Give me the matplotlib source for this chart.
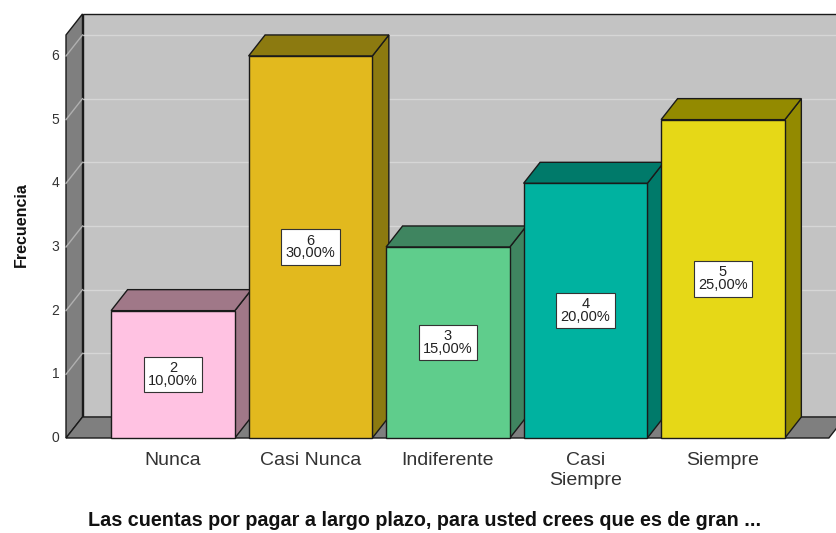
"""3D-style frequency bar chart drawn with plain matplotlib patches."""

import matplotlib
import matplotlib.pyplot as plt
from matplotlib.patches import Polygon, Rectangle

matplotlib.use("Agg")

plt.rcParams["font.family"] = ["Liberation Sans", "DejaVu Sans"]

# Data
categories = ["Nunca", "Casi Nunca", "Indiferente", "Casi\nSiempre", "Siempre"]
counts = [2, 6, 3, 4, 5]
percents = [10.0, 30.0, 15.0, 20.0, 25.0]
y_ticks = [0, 1, 2, 3, 4, 5, 6]

front_colors = ["#FFC2E2", "#E2B91E", "#5FCD8C", "#00B2A0", "#E6D817"]
side_colors = ["#A07888", "#8C7A10", "#3F8560", "#007A6A", "#938A00"]

xlabel = "Las cuentas por pagar a largo plazo, para usted crees que es de gran ..."
ylabel = "Frecuencia"

# Geometry (data units: x = category index, y = frequency)
BAR_W = 0.9
DX, DY = 0.12, 0.33          # depth offset of the 3D box
X_LEFT, X_RIGHT = -0.778, 4.77
Y_TOP = 6.33
EDGE = "#1a1a1a"

fig = plt.figure(figsize=(8.36, 5.33), dpi=100)
ax = fig.add_axes([0, 0, 1, 1])
ax.set_xlim(-1.258, 4.822)
ax.set_ylim(-1.492, 6.879)
ax.axis("off")

# Back wall
ax.add_patch(Polygon([(X_LEFT + DX, DY), (X_RIGHT + DX + 1, DY),
                      (X_RIGHT + DX + 1, Y_TOP + DY), (X_LEFT + DX, Y_TOP + DY)],
                     closed=True, facecolor="#C3C3C3", edgecolor=EDGE, lw=1, zorder=1))
# Left side wall
ax.add_patch(Polygon([(X_LEFT, 0), (X_LEFT + DX, DY), (X_LEFT + DX, Y_TOP + DY),
                      (X_LEFT, Y_TOP)],
                     closed=True, facecolor="#7F7F7F", edgecolor=EDGE, lw=1, zorder=2))
# Floor
ax.add_patch(Polygon([(X_LEFT, 0), (X_RIGHT, 0), (X_RIGHT + DX, DY), (X_LEFT + DX, DY)],
                     closed=True, facecolor="#7F7F7F", edgecolor=EDGE, lw=1, zorder=2))

# Gridlines on back wall and side wall, tick labels
for t in y_ticks:
    if t > 0:
        ax.plot([X_LEFT + DX, X_RIGHT + DX + 1], [t + DY, t + DY],
                color="#D6D6D6", lw=1, zorder=1.5)
        ax.plot([X_LEFT, X_LEFT + DX], [t, t + DY], color="#B0B0B0", lw=1, zorder=2.5)
    ax.text(X_LEFT - 0.05, t, str(t), ha="right", va="center",
            fontsize=10, color="#333333")

# Bars: front face, top face, side face, value label
for i, (v, pct) in enumerate(zip(counts, percents)):
    x0, x1 = i - BAR_W / 2, i + BAR_W / 2
    z = 10 + i
    ax.add_patch(Polygon([(x1, 0), (x1 + DX, DY), (x1 + DX, v + DY), (x1, v)],
                         closed=True, facecolor=side_colors[i], edgecolor=EDGE,
                         lw=1, zorder=z))
    ax.add_patch(Polygon([(x0, v), (x0 + DX, v + DY), (x1 + DX, v + DY), (x1, v)],
                         closed=True, facecolor=side_colors[i], edgecolor=EDGE,
                         lw=1, zorder=z))
    ax.add_patch(Rectangle((x0, 0), BAR_W, v, facecolor=front_colors[i],
                           edgecolor=EDGE, lw=1, zorder=z + 0.1))
    label = f"{v}\n{pct:.2f}%".replace(".", ",")
    ax.text(i, v / 2, label, ha="center", va="center", fontsize=10.5,
            color="#222222", linespacing=0.9, zorder=z + 0.2,
            bbox=dict(boxstyle="square,pad=0.3", facecolor="white",
                      edgecolor="#333333", lw=0.8))
    ax.text(i, -0.22, categories[i], ha="center", va="top", fontsize=14,
            color="#333333", linespacing=1.25)

# Axis titles
ax.text(-1.1, 3.35, ylabel, rotation=90, ha="center", va="center",
        fontsize=11.5, fontweight="bold", color="#111111")
ax.text(1.83, -1.30, xlabel, ha="center", va="center", fontsize=14.2,
        fontweight="bold", color="#111111")

fig.savefig("out.png", dpi=100, facecolor="white")
plt.close(fig)
